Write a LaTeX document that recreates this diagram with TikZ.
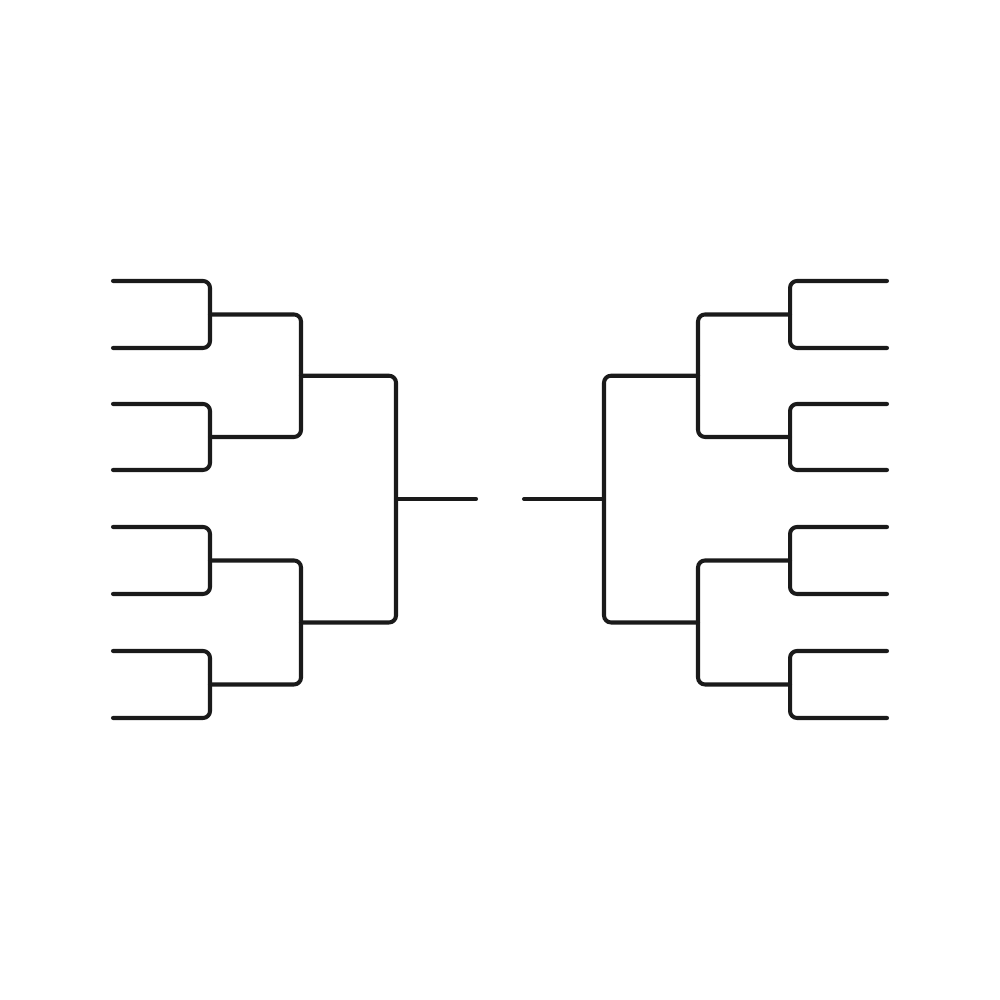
\documentclass[tikz,border=0pt]{standalone}
\usepackage{tikz}
\definecolor{inkline}{HTML}{1A1A1A}
\begin{document}
\begin{tikzpicture}[scale=1,inner sep=0pt,outer sep=0pt,
bracket/.style={draw=inkline,line width=1.15pt,line cap=round,line join=round,rounded corners=0.07cm}]
\useasboundingbox (0,0) rectangle (10,10);
% left half: entries, then the rounds
\coordinate (la1) at (1.13,7.19); \coordinate (la2) at (1.13,6.52);
\coordinate (la3) at (1.13,5.96); \coordinate (la4) at (1.13,5.30);
\coordinate (la5) at (1.13,4.73); \coordinate (la6) at (1.13,4.06);
\coordinate (la7) at (1.13,3.49); \coordinate (la8) at (1.13,2.82);
\coordinate (lb1) at (2.10,6.855); \coordinate (lb2) at (2.10,5.63);
\coordinate (lb3) at (2.10,4.395); \coordinate (lb4) at (2.10,3.155);
\coordinate (lc1) at (3.01,6.2425); \coordinate (lc2) at (3.01,3.775);
\coordinate (ld) at (3.96,5.01);
\coordinate (lfinal) at (4.76,5.01);
% right half
\coordinate (ra1) at (8.87,7.19); \coordinate (ra2) at (8.87,6.52);
\coordinate (ra3) at (8.87,5.96); \coordinate (ra4) at (8.87,5.30);
\coordinate (ra5) at (8.87,4.73); \coordinate (ra6) at (8.87,4.06);
\coordinate (ra7) at (8.87,3.49); \coordinate (ra8) at (8.87,2.82);
\coordinate (rb1) at (7.90,6.855); \coordinate (rb2) at (7.90,5.63);
\coordinate (rb3) at (7.90,4.395); \coordinate (rb4) at (7.90,3.155);
\coordinate (rc1) at (6.98,6.2425); \coordinate (rc2) at (6.98,3.775);
\coordinate (rd) at (6.04,5.01);
\coordinate (rfinal) at (5.24,5.01);
\draw[bracket] (la1) -| (lb1) |- (la2);
\draw[bracket] (la3) -| (lb2) |- (la4);
\draw[bracket] (la5) -| (lb3) |- (la6);
\draw[bracket] (la7) -| (lb4) |- (la8);
\draw[bracket] (lb1) -| (lc1) |- (lb2);
\draw[bracket] (lb3) -| (lc2) |- (lb4);
\draw[bracket] (lc1) -| (ld) |- (lc2);
\draw[bracket] (ld) -- (lfinal);
\draw[bracket] (ra1) -| (rb1) |- (ra2);
\draw[bracket] (ra3) -| (rb2) |- (ra4);
\draw[bracket] (ra5) -| (rb3) |- (ra6);
\draw[bracket] (ra7) -| (rb4) |- (ra8);
\draw[bracket] (rb1) -| (rc1) |- (rb2);
\draw[bracket] (rb3) -| (rc2) |- (rb4);
\draw[bracket] (rc1) -| (rd) |- (rc2);
\draw[bracket] (rd) -- (rfinal);
\end{tikzpicture}
\end{document}
